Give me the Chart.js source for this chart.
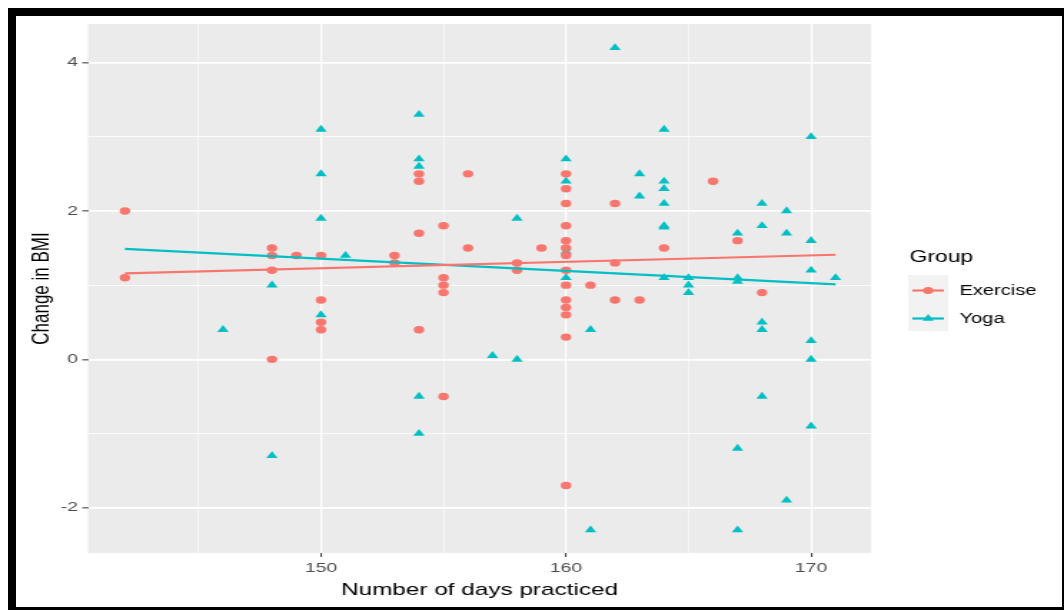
<!DOCTYPE html>
<html>
<head>
<meta charset="utf-8">
<script src="https://cdn.jsdelivr.net/npm/chart.js@4"></script>
<style>
  html, body { margin:0; padding:0; background:#fff; overflow:hidden; }
  #wrap { position:absolute; left:0; top:0; width:744px; height:610px; transform:scaleX(1.430108); transform-origin:0 0; }
  #frame { position:absolute; left:8px; top:8px; width:1056px; height:602px; box-sizing:border-box;
           border-top:8px solid #000; border-left:8px solid #000; border-right:2px solid #000; border-bottom:3px solid #000;
           pointer-events:none; }
</style>
</head>
<body>
<div id="wrap"><canvas id="c" width="744" height="610" style="width:744px;height:610px"></canvas></div>
<div id="frame"></div>
<script>
// ---- data ----
const exerciseDays = [142,142,148,148,148,148,149,150,150,150,150,153,153,154,154,154,154,155,155,155,155,155,156,156,158,158,159,
  160,160,160,160,160,160,160,160,160,160,160,160,160,160,161,162,162,162,163,164,166,167,168];
const exerciseBMI  = [2.0,1.1,1.5,1.4,1.2,0.0,1.4,1.4,0.8,0.5,0.4,1.4,1.3,2.5,2.4,1.7,0.4,1.8,1.1,1.0,0.9,-0.5,2.5,1.5,1.3,1.2,1.5,
  2.5,2.3,2.1,1.8,1.6,1.5,1.4,1.2,1.0,0.8,0.7,0.6,0.3,-1.7,1.0,2.1,1.3,0.8,0.8,1.5,2.4,1.6,0.9];
const yogaDays = [146,148,148,150,150,150,150,151,154,154,154,154,154,157,158,158,160,160,160,160,161,161,162,163,163,
  164,164,164,164,164,164,164,165,165,165,167,167,167,167,167,168,168,168,168,168,169,169,169,170,170,170,170,170,170,171];
const yogaBMI  = [0.4,1.0,-1.3,3.1,2.5,1.9,0.6,1.4,3.3,2.7,2.6,-0.5,-1.0,0.05,1.9,0.0,2.7,2.4,1.45,1.1,0.4,-2.3,4.2,2.5,2.2,
  3.1,2.4,2.3,2.1,1.8,1.78,1.1,1.1,1.0,0.9,1.7,1.1,1.05,-1.2,-2.3,2.1,1.8,0.5,0.4,-0.5,2.0,1.7,-1.9,3.0,1.6,1.2,0.25,0.0,-0.9,1.1];
const fitDays = [142, 171];
const exerciseFit = [1.16, 1.41];
const yogaFit = [1.49, 1.01];
const xTickLabels = [150, 160, 170];
const yTickLabels = [-2, 0, 2, 4];
const groups = ['Exercise', 'Yoga'];
const groupColors = ['#F8766D', '#00BFC4'];

const FONT = '"Liberation Sans", Arial, sans-serif';
const pts = (xs, ys) => xs.map((x, i) => ({x: x, y: ys[i]}));

function withMinors(majors, step) {
  const out = [];
  const first = majors[0] - step, last = majors[majors.length - 1] + step;
  for (let v = first; v <= last + 1e-9; v += step) {
    out.push({value: v, isMajor: majors.some(m => Math.abs(m - v) < 1e-9)});
  }
  return out;
}

const bgPlugin = {
  id: 'panelBg',
  beforeDraw(chart) {
    const {ctx, chartArea: a} = chart;
    ctx.save();
    ctx.fillStyle = '#ffffff';
    ctx.fillRect(0, 0, chart.width, chart.height);
    ctx.fillStyle = '#EBEBEB';
    ctx.fillRect(a.left, a.top, a.right - a.left, a.bottom - a.top);
    ctx.restore();
  }
};

const legendPlugin = {
  id: 'ggLegend',
  afterDraw(chart) {
    const ctx = chart.ctx;
    ctx.save();
    ctx.fillStyle = '#000';
    ctx.font = '16px ' + FONT;
    ctx.textBaseline = 'middle';
    ctx.textAlign = 'left';
    ctx.fillText('Group', 636, 258);
    const keyX = 635, keyW = 28, keyH = 28, keyTop = 275;
    ctx.fillStyle = '#F2F2F2';
    ctx.fillRect(keyX, keyTop, keyW, keyH * groups.length);
    groups.forEach((g, i) => {
      const cy = keyTop + keyH * i + keyH / 2 + 1.5;
      const cx = keyX + keyW / 2;
      ctx.strokeStyle = groupColors[i];
      ctx.lineWidth = 2.2;
      ctx.beginPath();
      ctx.moveTo(keyX + 3, cy);
      ctx.lineTo(keyX + keyW - 3, cy);
      ctx.stroke();
      ctx.fillStyle = groupColors[i];
      ctx.beginPath();
      if (i === 0) {
        ctx.arc(cx, cy, 3.6, 0, Math.PI * 2);
      } else {
        const r = 4.5;
        ctx.moveTo(cx, cy - r);
        ctx.lineTo(cx + r * Math.sin(2 * Math.PI / 3), cy - r * Math.cos(2 * Math.PI / 3));
        ctx.lineTo(cx + r * Math.sin(4 * Math.PI / 3), cy - r * Math.cos(4 * Math.PI / 3));
        ctx.closePath();
      }
      ctx.fill();
      ctx.fillStyle = '#000';
      ctx.font = '14px ' + FONT;
      ctx.fillText(g, 671, cy + 0.5);
    });
    ctx.restore();
  }
};

const gridCommon = {
  color: '#ffffff',
  drawTicks: true,
  tickLength: 4,
  tickWidth: 1,
  tickColor: c => (c.tick && c.tick.isMajor) ? '#333333' : 'rgba(0,0,0,0)'
};

new Chart(document.getElementById('c'), {
  type: 'scatter',
  data: {
    datasets: [
      { label: 'Exercise fit', type: 'line', data: pts(fitDays, exerciseFit), borderColor: groupColors[0], borderWidth: 2.2,
        pointRadius: 0, fill: false, tension: 0, order: 0 },
      { label: 'Yoga fit', type: 'line', data: pts(fitDays, yogaFit), borderColor: groupColors[1], borderWidth: 2.2,
        pointRadius: 0, fill: false, tension: 0, order: 0 },
      { label: 'Exercise', data: pts(exerciseDays, exerciseBMI), backgroundColor: groupColors[0], borderColor: groupColors[0],
        borderWidth: 0, pointStyle: 'circle', pointRadius: 3.7, order: 1 },
      { label: 'Yoga', data: pts(yogaDays, yogaBMI), backgroundColor: groupColors[1], borderColor: groupColors[1],
        borderWidth: 0, pointStyle: 'triangle', pointRadius: 4.6, order: 1 }
    ]
  },
  options: {
    responsive: false,
    animation: false,
    devicePixelRatio: 1,
    layout: { padding: { left: 0, right: 134.9, top: 24, bottom: 0 } },
    plugins: { legend: { display: false }, tooltip: { enabled: false } },
    scales: {
      x: {
        type: 'linear', min: 140.49, max: 172.45,
        afterBuildTicks: s => { s.ticks = withMinors(xTickLabels, 5); },
        afterFit: s => { s.height = 57; },
        grid: Object.assign({}, gridCommon, { lineWidth: c => (c.tick && c.tick.isMajor) ? 1.2 : 0.6 }),
        border: { display: false },
        ticks: {
          color: '#4D4D4D', font: { family: FONT, size: 13.5 }, padding: 3, maxRotation: 0, autoSkip: false,
          callback: function(v, i, ticks) { return ticks[i].isMajor ? String(v) : ''; }
        },
        title: { display: true, text: 'Number of days practiced', color: '#000', font: { family: FONT, size: 17 },
          padding: { top: 0, bottom: 9.8 } }
      },
      y: {
        type: 'linear', min: -2.61, max: 4.52,
        afterBuildTicks: s => { s.ticks = withMinors(yTickLabels, 1); },
        afterFit: s => { s.width = 61.5; },
        grid: Object.assign({}, gridCommon, { lineWidth: c => (c.tick && c.tick.isMajor) ? 1.7 : 0.8 }),
        border: { display: false },
        ticks: {
          color: '#4D4D4D', font: { family: FONT, size: 13.5 }, padding: 3, autoSkip: false,
          callback: function(v, i, ticks) { return ticks[i].isMajor ? String(v) : ''; }
        },
        title: { display: true, text: 'Change in BMI', color: '#000', font: { family: FONT, size: 17 },
          padding: { top: 19.5, bottom: 0 } }
      }
    }
  },
  plugins: [bgPlugin, legendPlugin]
});
</script>
</body>
</html>
